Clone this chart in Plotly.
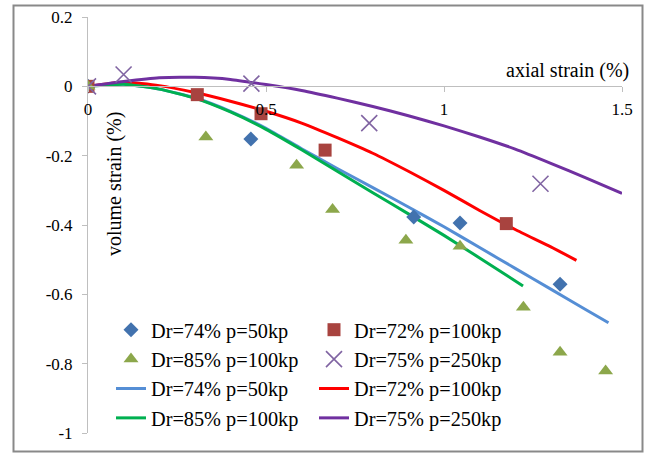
import plotly.graph_objects as go

# ---- data ----
x_ticks = [0, 0.5, 1, 1.5]
x_tick_labels = ["0", "0.5", "1", "1.5"]
y_ticks = [-1, -0.8, -0.6, -0.4, -0.2, 0, 0.2]
y_tick_labels = ["-1", "-0.8", "-0.6", "-0.4", "-0.2", "0", "0.2"]

# measured points
exp_dr74_x = [0, 0.4575, 0.915, 1.045, 1.326]
exp_dr74_y = [0, -0.152, -0.377, -0.394, -0.571]
exp_dr72_x = [0, 0.307, 0.486, 0.666, 1.175]
exp_dr72_y = [0, -0.024, -0.079, -0.184, -0.396]
exp_dr85_x = [0, 0.331, 0.586, 0.687, 0.893, 1.045, 1.223, 1.326, 1.454]
exp_dr85_y = [0, -0.146, -0.228, -0.355, -0.444, -0.461, -0.637, -0.767, -0.821]
exp_dr75_x = [0, 0.100, 0.459, 0.790, 1.271]
exp_dr75_y = [0, 0.034, 0.008, -0.106, -0.281]

# model curves
sim_dr74_x = [0, 0.1, 0.2, 0.3, 0.4, 0.5, 0.6, 0.7, 0.8, 0.9, 1.0, 1.1, 1.2, 1.3, 1.4, 1.462]
sim_dr74_y = [0, 0.006, -0.008, -0.033, -0.072, -0.121, -0.180, -0.237, -0.292, -0.348, -0.405, -0.465, -0.525, -0.585, -0.645, -0.682]
sim_dr72_x = [0, 0.1, 0.2, 0.3, 0.4, 0.5, 0.6, 0.7, 0.8, 0.9, 1.0, 1.1, 1.2, 1.3, 1.372]
sim_dr72_y = [0, 0.012, 0.002, -0.018, -0.043, -0.072, -0.106, -0.148, -0.193, -0.245, -0.300, -0.358, -0.413, -0.463, -0.502]
sim_dr85_x = [0, 0.1, 0.2, 0.3, 0.4, 0.5, 0.6, 0.7, 0.8, 0.9, 1.0, 1.1, 1.222]
sim_dr85_y = [0, 0.006, -0.008, -0.034, -0.074, -0.124, -0.183, -0.245, -0.307, -0.368, -0.430, -0.495, -0.576]
sim_dr75_x = [0, 0.1, 0.2, 0.3, 0.4, 0.5, 0.6, 0.7, 0.8, 0.9, 1.0, 1.1, 1.2, 1.3, 1.4, 1.5]
sim_dr75_y = [0, 0.014, 0.025, 0.026, 0.020, 0.005, -0.012, -0.034, -0.058, -0.085, -0.114, -0.146, -0.181, -0.222, -0.265, -0.309]

names = ["Dr=74% p=50kp", "Dr=72% p=100kp", "Dr=85% p=100kp", "Dr=75% p=250kp"]

FONT = "Liberation Serif"

fig = go.Figure()

# lines first (drawn underneath markers)
line_specs = [
    (sim_dr74_x, sim_dr74_y, names[0], "#558ED5", "legend", 3),
    (sim_dr72_x, sim_dr72_y, names[1], "#FF0000", "legend2", 3),
    (sim_dr85_x, sim_dr85_y, names[2], "#00B050", "legend", 4),
    (sim_dr75_x, sim_dr75_y, names[3], "#7030A0", "legend2", 4),
]
for x, y, n, c, lg, rank in line_specs:
    fig.add_trace(go.Scatter(x=x, y=y, mode="lines", name=n,
                             line=dict(color=c, width=3, shape="spline", smoothing=0.5),
                             legend=lg, legendrank=rank))

marker_specs = [
    (exp_dr74_x, exp_dr74_y, names[0], dict(symbol="diamond", size=11.5, color="#4272AE"), "legend", 1),
    (exp_dr72_x, exp_dr72_y, names[1], dict(symbol="square", size=13, color="#A8433F"), "legend2", 1),
    (exp_dr85_x, exp_dr85_y, names[2], dict(symbol="triangle-up", size=13, color="#8CA74B"), "legend", 2),
    (exp_dr75_x, exp_dr75_y, names[3], dict(symbol="x-thin-open", size=16, color="#8064A2",
                                           line=dict(color="#8064A2", width=1.6)), "legend2", 2),
]
for x, y, n, m, lg, rank in marker_specs:
    fig.add_trace(go.Scatter(x=x, y=y, mode="markers", name=n, marker=m,
                             legend=lg, legendrank=rank))

L, R, T, B = 88, 46, 17, 22
W, H = 668, 455
pw, ph = W - L - R, H - T - B

def px_x(p):
    return (p - L) / pw

def px_y(p):
    return (H - B - p) / ph

axis_grey = "#BFBFBF"
fig.update_layout(
    width=W, height=H,
    margin=dict(l=L, r=R, t=T, b=B, autoexpand=False),
    paper_bgcolor="white", plot_bgcolor="white",
    font=dict(family=FONT, color="black"),
    xaxis=dict(range=[0, 1.5], tickvals=x_ticks, ticktext=x_tick_labels,
               showgrid=False, zeroline=False, showline=True, linecolor=axis_grey, linewidth=1,
               ticks="outside", ticklen=5, tickcolor=axis_grey, tickfont=dict(size=17, family=FONT),
               anchor="free", position=(0 - (-1)) / 1.2, ticklabelstandoff=2),
    yaxis=dict(range=[-1, 0.2], tickvals=y_ticks, ticktext=y_tick_labels,
               showgrid=False, zeroline=False, showline=True, linecolor=axis_grey, linewidth=1,
               ticks="outside", ticklen=5, tickcolor=axis_grey, tickfont=dict(size=17, family=FONT),
               ticklabelstandoff=6),
    legend=dict(x=px_x(111), y=px_y(310), xanchor="left", yanchor="top",
                bgcolor="rgba(0,0,0,0)", font=dict(size=20.3, family=FONT),
                tracegroupgap=0, itemwidth=30),
    legend2=dict(x=px_x(314), y=px_y(310), xanchor="left", yanchor="top",
                 bgcolor="rgba(0,0,0,0)", font=dict(size=20.3, family=FONT),
                 tracegroupgap=0, itemwidth=30),
    showlegend=True,
)

fig.add_annotation(text="axial strain (%)", xref="paper", yref="paper",
                   x=px_x(631), y=px_y(70), xanchor="right", yanchor="middle",
                   showarrow=False, font=dict(size=20, family=FONT))
fig.add_annotation(text="volume strain (%)", xref="paper", yref="paper",
                   x=px_x(114), y=px_y(184), xanchor="center", yanchor="middle",
                   textangle=-90, showarrow=False, font=dict(size=20, family=FONT))

# outer chart frame
fig.add_shape(type="rect", xref="paper", yref="paper",
              x0=px_x(13.5), x1=px_x(642.5), y0=px_y(451.5), y1=px_y(5.5),
              line=dict(color="#898989", width=2), fillcolor="rgba(0,0,0,0)", layer="below")

fig.write_html("out.html", config={"displayModeBar": False},
               post_script="document.body.style.margin='0';document.body.style.padding='0';"
                           "document.documentElement.style.overflow='hidden';")
